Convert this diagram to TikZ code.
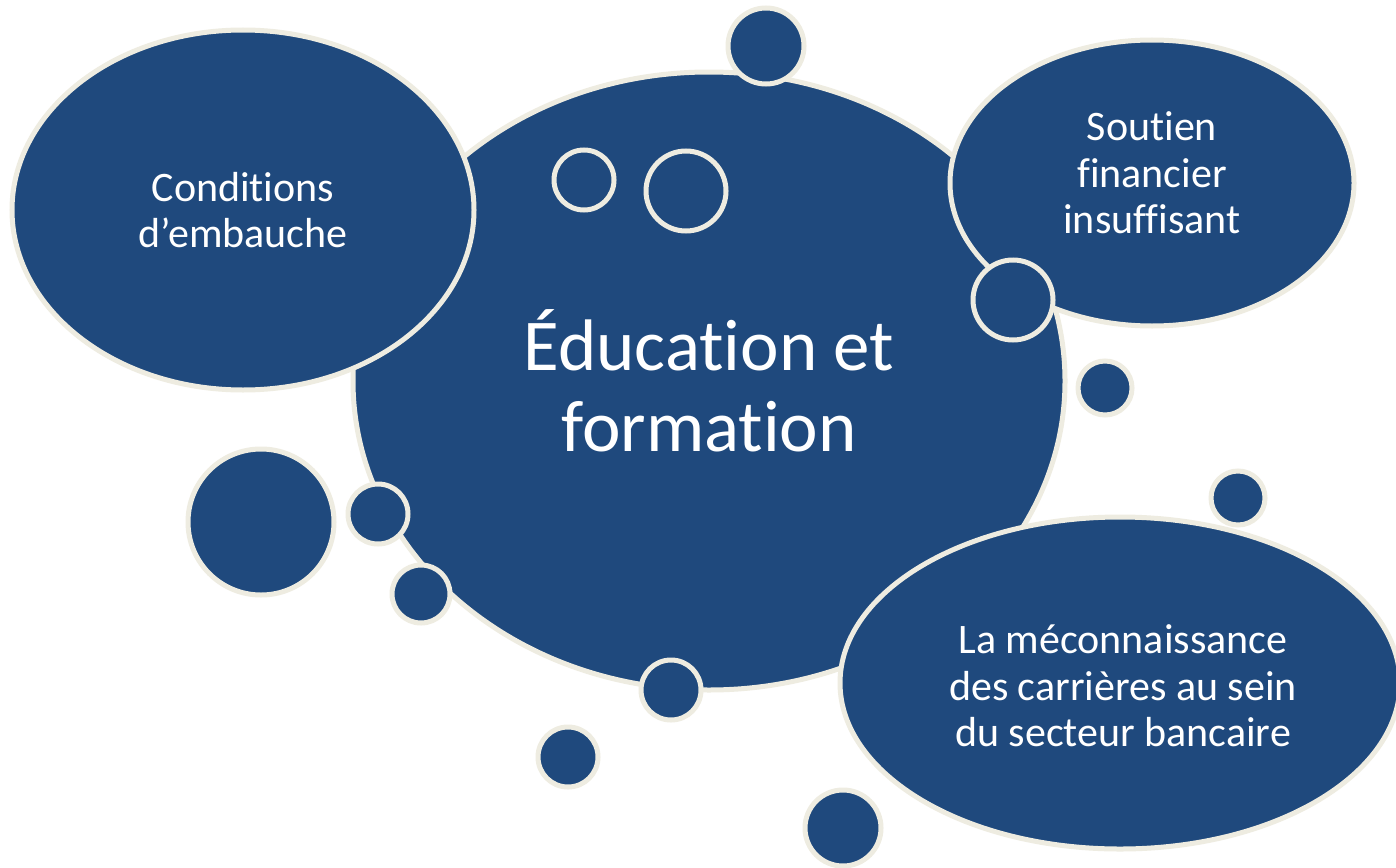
\documentclass[tikz,border=0pt]{standalone}
\usepackage{fontspec}
\setmainfont[Ligatures={NoCommon}]{Carlito}
\usetikzlibrary{shapes.geometric}
\definecolor{bubble}{HTML}{1F497D}
\definecolor{rim}{HTML}{EEECE1}
\tikzset{
  blob/.style={ellipse, draw=rim, fill=bubble, line width=5pt, inner sep=0pt},
  dot/.style={circle, draw=rim, fill=bubble, line width=5pt, inner sep=0pt, minimum size=#1},
  ring/.style={circle, draw=rim, line width=5pt, inner sep=0pt, minimum size=#1},
  smalltxt/.style={text=white, align=center, font=\fontsize{42}{46.5}\selectfont},
  bigtxt/.style={text=white, align=center, font=\fontsize{73}{81}\selectfont}
}
\begin{document}
\begin{tikzpicture}[x=1pt,y=-1pt]
\useasboundingbox (0,0) rectangle (1396,867);
\fill[white] (0,0) rectangle (1396,867);
\begin{scope}
\clip (0,0) rectangle (1396,867);
% central bubble
\node[blob, minimum width=712pt, minimum height=618pt] (edu) at (709,381) {};
% outer bubbles
\node[blob, minimum width=462pt, minimum height=360pt] (cond) at (243,210) {};
\node[blob, minimum width=404pt, minimum height=286pt] (sout) at (1152,183) {};
\node[blob, minimum width=560pt, minimum height=332pt] (meco) at (1120,683) {};
% small dots
\node[dot=76pt] (d1) at (766,46) {};
\node[dot=80pt] (d2) at (1013,300) {};
\node[dot=54pt] (d3) at (1105,388) {};
\node[dot=54pt] (d4) at (1238,498) {};
\node[dot=76pt] (d5) at (843,828) {};
\node[dot=146pt] (d6) at (261,522) {};
\node[dot=60pt] (d7) at (378,514) {};
\node[dot=58pt] (d8) at (421,594) {};
\node[dot=60pt] (d9) at (671,690) {};
\node[dot=60pt] (d10) at (568,757) {};
% rings inside the central bubble
\node[ring=60pt] (r1) at (584,180) {};
\node[ring=80pt] (r2) at (686,191) {};
% texts
\node[bigtxt] (tedu) at (edu.center) {Éducation et\\formation};
\node[smalltxt] (tcond) at (cond.center) {Conditions\\d’embauche};
\node[smalltxt] (tsout) at ([yshift=10pt]sout.center) {Soutien\\financier\\insuffisant};
\node[smalltxt] (tmeco) at ([xshift=3pt,yshift=-3pt]meco.center) {La méconnaissance\\des carrières au sein\\du secteur bancaire};
\end{scope}
\end{tikzpicture}
\end{document}
